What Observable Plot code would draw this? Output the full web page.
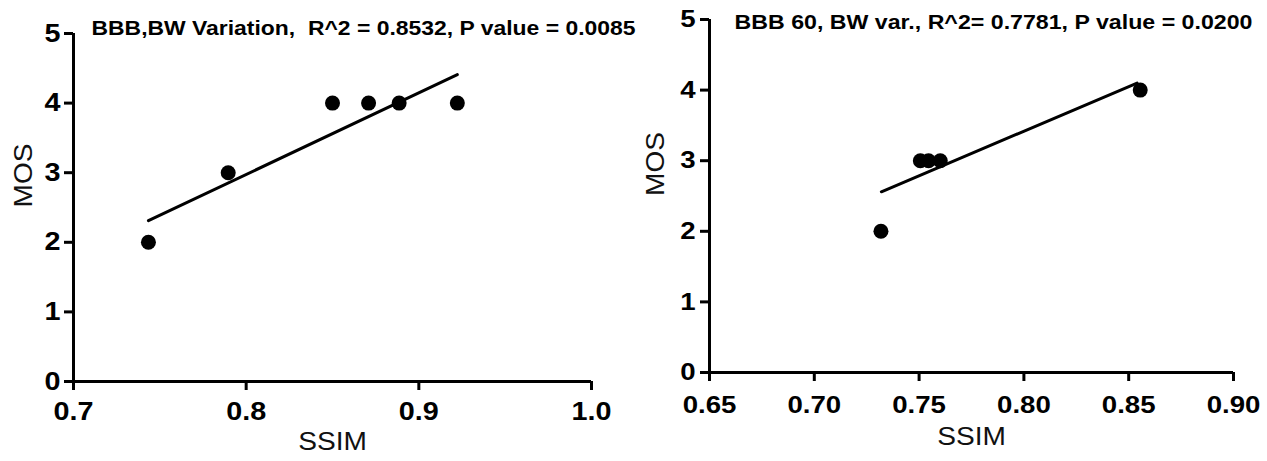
<!DOCTYPE html>
<html>
<head>
<meta charset="utf-8">
<script src="https://cdn.jsdelivr.net/npm/d3@7"></script>
<script src="https://cdn.jsdelivr.net/npm/@observablehq/plot@0.6"></script>
<style>
  html, body { margin: 0; padding: 0; background: #fff; }
  #wrap { display: flex; flex-direction: row; width: 1267px; height: 461px; }
  svg { display: block; }
</style>
</head>
<body>
<div id="wrap"></div>
<script>
// ---- Data ----
const leftTitle = "BBB,BW Variation,  R^2 = 0.8532, P value = 0.0085";
const leftSSIM = [0.7434, 0.7896, 0.8500, 0.8709, 0.8886, 0.9223];
const leftMOS = [2, 3, 4, 4, 4, 4];
const leftFitSSIM = [0.7434, 0.9223];
const leftFitMOS = [2.31, 4.41];
const leftXTicks = [0.7, 0.8, 0.9, 1.0];

const rightTitle = "BBB 60, BW var., R^2= 0.7781, P value = 0.0200";
const rightSSIM = [0.7318, 0.7506, 0.7545, 0.7601, 0.8555];
const rightMOS = [2, 3, 3, 3, 4];
const rightFitSSIM = [0.732, 0.854];
const rightFitMOS = [2.56, 4.10];
const rightXTicks = [0.65, 0.70, 0.75, 0.80, 0.85, 0.90];

const yTicks = [0, 1, 2, 3, 4, 5];
const xLabel = "SSIM";
const yLabel = "MOS";

function makeChart(cfg) {
  const pts = cfg.xs.map((x, i) => ({x, y: cfg.ys[i]}));
  const fit = cfg.fitX.map((x, i) => ({x, y: cfg.fitY[i]}));
  const x0 = cfg.xTicks[0], x1 = cfg.xTicks[cfg.xTicks.length - 1];
  return Plot.plot({
    width: cfg.width,
    height: 461,
    marginLeft: cfg.ml,
    marginRight: cfg.mr,
    marginTop: cfg.mt,
    marginBottom: cfg.mb,
    style: {fontFamily: "'Liberation Sans', Arial, sans-serif", color: "#000", background: "#fff"},
    x: {domain: [x0, x1]},
    y: {domain: [0, 5]},
    marks: [
      Plot.axisX({ticks: cfg.xTicks, tickFormat: d3.format(cfg.fmt), tickSize: 9, tickPadding: cfg.xPad,
        strokeWidth: 3, fontSize: cfg.tickFont, fontWeight: "bold", label: null}),
      Plot.axisY({ticks: yTicks, tickFormat: d3.format("d"), tickSize: 9, tickPadding: cfg.yPad,
        strokeWidth: 3, fontSize: cfg.tickFont, fontWeight: "bold", label: null}),
      Plot.ruleX([x0], {y1: 0, y2: 5, strokeWidth: 3}),
      Plot.ruleY([0], {x1: x0, x2: x1, strokeWidth: 3}),
      Plot.line(fit, {x: "x", y: "y", strokeWidth: 3, stroke: "#000"}),
      Plot.dot(pts, {x: "x", y: "y", r: 7.5, fill: "#000", stroke: "none"}),
      Plot.text([cfg.title], {frameAnchor: "top-left", textAnchor: "start", lineAnchor: "bottom",
        dx: cfg.titleDx, dy: cfg.titleDy, fontSize: cfg.titleFont, fontWeight: "bold", fill: "#000"}),
      Plot.text([yLabel], {frameAnchor: "left", rotate: -90, dx: cfg.yLabDx, fontSize: 26, fill: "#111"}),
      Plot.text([xLabel], {frameAnchor: "bottom", dy: cfg.xLabDy, fontSize: 26, fill: "#111"})
    ]
  });
}

const left = makeChart({
  width: 640, ml: 73, mr: 49, mt: 33, mb: 80,
  xs: leftSSIM, ys: leftMOS, fitX: leftFitSSIM, fitY: leftFitMOS,
  xTicks: leftXTicks, fmt: ".1f", xPad: 12, yPad: 4, tickFont: 25,
  title: leftTitle, titleDx: 18, titleDy: 1, titleFont: 19.5,
  yLabDx: -50, xLabDy: 68
});
const right = makeChart({
  width: 627, ml: 69, mr: 34, mt: 19, mb: 89,
  xs: rightSSIM, ys: rightMOS, fitX: rightFitSSIM, fitY: rightFitMOS,
  xTicks: rightXTicks, fmt: ".2f", xPad: 14, yPad: 5, tickFont: 24,
  title: rightTitle, titleDx: 25, titleDy: 9, titleFont: 20,
  yLabDx: -54, xLabDy: 72
});
const wrap = document.getElementById("wrap");
wrap.appendChild(left);
wrap.appendChild(right);

// Horizontal widening of glyphs to match the reference's wider lettering
function widen(svg, titleWidth) {
  d3.select(svg).selectAll("text").each(function () {
    const t = this.textContent;
    const len = this.getComputedTextLength();
    let target;
    if (t.startsWith("BBB")) target = titleWidth;
    else if (t === "MOS" || t === "SSIM") target = len * 1.08;
    else target = len * 1.15;
    this.setAttribute("textLength", target);
    this.setAttribute("lengthAdjust", "spacingAndGlyphs");
  });
}
widen(left, 544);
widen(right, 518);
</script>
</body>
</html>
